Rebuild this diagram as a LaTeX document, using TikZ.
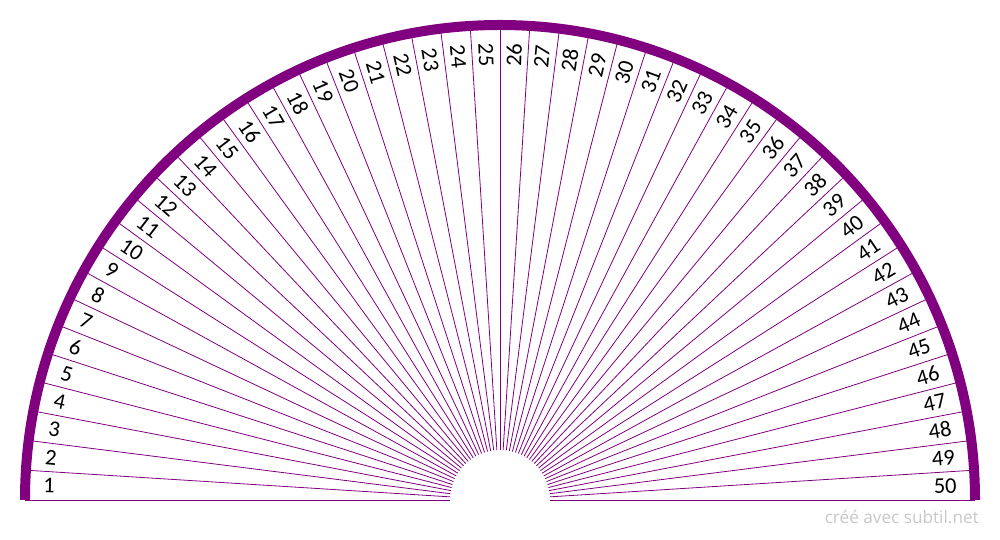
\documentclass[tikz,border=0pt]{standalone}
\usepackage{fontspec}
\usetikzlibrary{calc}
\setmainfont{Carlito}
\newfontfamily\wmfont{Open Sans}
\definecolor{pur}{HTML}{800080}
\definecolor{wmgray}{HTML}{C8C8C8}
\tikzset{
  spoke/.style={draw=pur, line width=0.8pt},
  rim/.style={draw=pur, line width=10pt},
  lbl/.style={inner sep=0pt, font=\fontsize{22.5}{22.5}\selectfont, text=black},
  wm/.style={inner sep=0pt, font=\wmfont\fontsize{17.2}{17.2}\selectfont, text=wmgray}
}
\begin{document}
\begin{tikzpicture}[x=1pt,y=1pt]
\useasboundingbox (0,0) rectangle (1000,540);
\fill[white] (0,0) rectangle (1000,540);
\coordinate (O) at (500,40);
% spokes
\foreach \i in {0,...,50}{
  \pgfmathsetmacro{\a}{180-\i*3.6}
  \draw[spoke] (O) ++(\a:50) -- ++(\a:425);
}
% outer rim
\draw[rim] (O) ++(0:475) arc[start angle=0, end angle=180, radius=475];
% labels
\foreach \k in {1,...,25}{
  \pgfmathsetmacro{\t}{180-(\k-0.5)*3.6}
  \pgfmathsetmacro{\r}{\t-180}
  \node[lbl, anchor=west, rotate=\r] (l\k) at ($(O)+(\t:457)$) {\k};
}
\foreach \k in {26,...,50}{
  \pgfmathsetmacro{\t}{180-(\k-0.5)*3.6}
  \node[lbl, anchor=east, rotate=\t] (l\k) at ($(O)+(\t:457)$) {\k};
}
\node[wm, anchor=base east] (wmark) at (979,16) {créé avec subtil.net};
\end{tikzpicture}
\end{document}
